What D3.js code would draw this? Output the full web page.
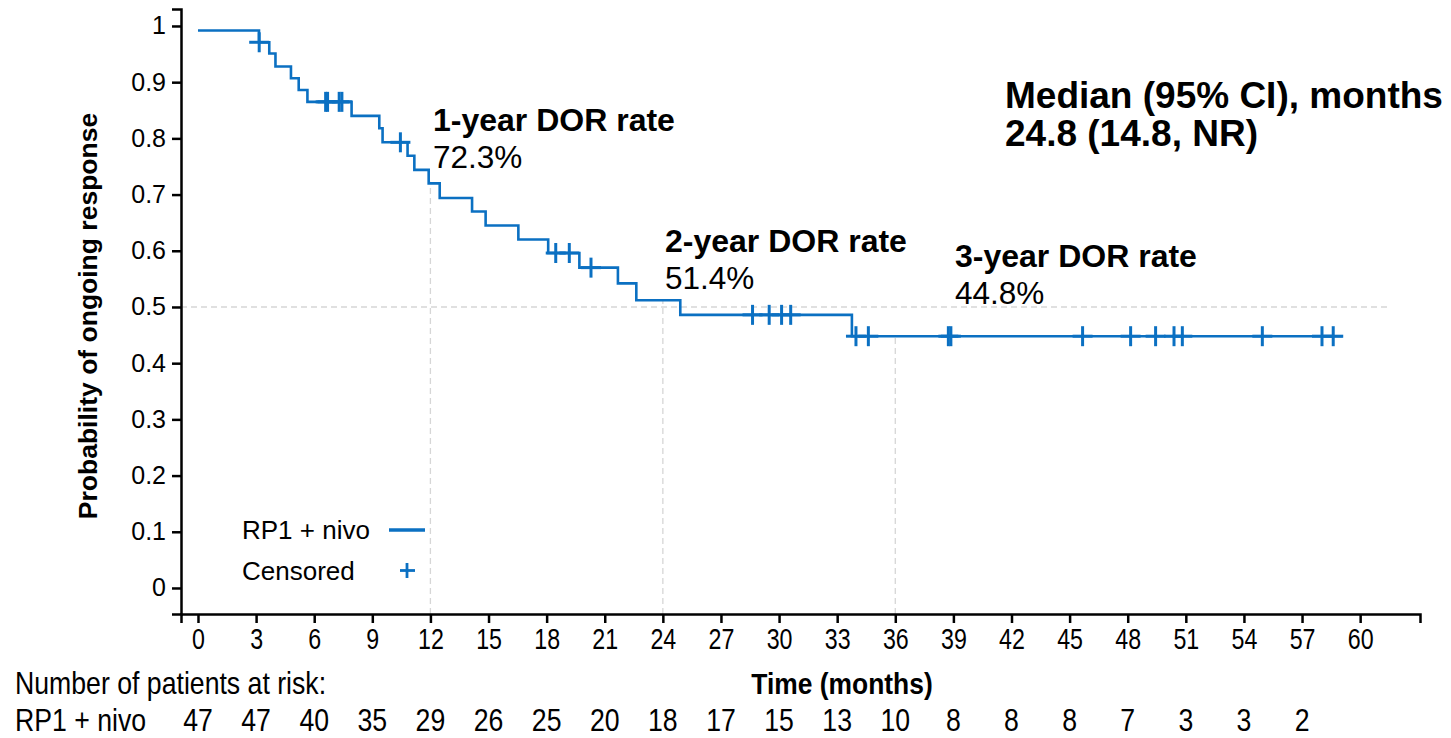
<!DOCTYPE html>
<html><head><meta charset="utf-8">
<script src="https://cdn.jsdelivr.net/npm/d3@7"></script>
<style>
html,body{margin:0;padding:0;background:#fff;}
svg{display:block;}
text{font-family:"Liberation Sans",Arial,sans-serif;}
</style>
</head><body>
<svg id="chart" width="1451" height="738"></svg>
<script>
// ---- data ----
const startValue = 0.992;
const eventTimes = [3.15, 3.68, 4.0, 4.8, 5.2, 5.65, 7.93, 9.36, 9.53, 10.82, 11.17, 11.91, 12.48, 14.15, 14.85, 16.54, 18.08, 19.69, 21.68, 22.63, 24.9, 33.76];
const survival   = [0.971, 0.951, 0.928, 0.907, 0.886, 0.865, 0.840, 0.818, 0.793, 0.769, 0.744, 0.720, 0.694, 0.670, 0.645, 0.620, 0.596, 0.570, 0.542, 0.512, 0.486, 0.448];
const lastFollowUp = 59.1;
const censorTimes = [3.16, 6.59, 6.69, 7.29, 7.43, 10.45, 18.47, 19.17, 20.29, 28.63, 29.49, 30.13, 30.6, 33.97, 34.61, 38.74, 38.87, 45.67, 48.15, 49.44, 50.39, 50.82, 54.95, 58.03, 58.61];
const xTicks = [0,3,6,9,12,15,18,21,24,27,30,33,36,39,42,45,48,51,54,57,60];
const yTicks = [0,0.1,0.2,0.3,0.4,0.5,0.6,0.7,0.8,0.9,1];
const atRiskTimes = [0,3,6,9,12,15,18,21,24,27,30,33,36,39,42,45,48,51,54,57];
const atRisk = [47,47,40,35,29,26,25,20,18,17,15,13,10,8,8,8,7,3,3,2];
const rateTimes = [12, 24, 36];
const rateValues = [0.723, 0.514, 0.448];
const rateTitles = ["1-year DOR rate", "2-year DOR rate", "3-year DOR rate"];
const rateLabels = ["72.3%", "51.4%", "44.8%"];
const medianTitle = "Median (95% CI), months";
const medianValue = "24.8 (14.8, NR)";
const seriesName = "RP1 + nivo";

// ---- layout ----
const blue = "#0b70c2";
const svg = d3.select("#chart");
const x = d3.scaleLinear().domain([-0.877, 63.09]).range([181, 1420]);
const y = d3.scaleLinear().domain([-0.0463, 1.0302]).range([614, 9]);

// reference lines
const g = svg.append("g");
const dash = {stroke:"#d6d6d6", "stroke-width":1.3, "stroke-dasharray":"6,4"};
function applyAttrs(sel, o){ for (const k in o) sel.attr(k, o[k]); return sel; }
applyAttrs(g.append("line").attr("x1", x.range()[0]).attr("x2", x(61.5)).attr("y1", y(0.5)).attr("y2", y(0.5)), dash);
rateTimes.forEach((t,i)=>{
  applyAttrs(g.append("line").attr("x1", x(t)).attr("x2", x(t)).attr("y1", y.range()[0]).attr("y2", y(rateValues[i])), dash);
});

// axes
const xAxis = d3.axisBottom(x).tickValues(xTicks).tickSizeOuter(0).tickSize(9).tickPadding(5).tickFormat(d3.format("d"));
const gx = svg.append("g").attr("transform", `translate(0,${y.range()[0]})`).call(xAxis);
gx.select(".domain").attr("stroke","#000").attr("stroke-width",2.5);
gx.selectAll(".tick line").attr("stroke","#000").attr("stroke-width",2.5);
gx.selectAll(".tick text").attr("font-family","'Liberation Sans',Arial,sans-serif").attr("font-size",29).attr("fill","#000")
  .attr("transform","scale(0.8,1)");

const yAxis = d3.axisLeft(y).tickValues(yTicks).tickSizeOuter(0).tickSize(9).tickPadding(6).tickFormat(d=> d===0?"0":d===1?"1":d3.format(".1f")(d));
const gy = svg.append("g").attr("transform", `translate(${x.range()[0]},0)`).call(yAxis);
gy.select(".domain").attr("stroke","#000").attr("stroke-width",2.5);
gy.selectAll(".tick line").attr("stroke","#000").attr("stroke-width",2.5);
gy.selectAll(".tick text").attr("font-family","'Liberation Sans',Arial,sans-serif").attr("font-size",25).attr("fill","#000");

// axis titles
svg.append("text").attr("font-weight","bold").attr("font-size",26.5)
  .attr("transform",`translate(97,316) rotate(-90)`).attr("text-anchor","middle").text("Probability of ongoing response");
svg.append("text").attr("font-weight","bold").attr("font-size",30)
  .attr("transform","translate(842,694) scale(0.88,1)").attr("text-anchor","middle").text("Time (months)");

// KM curve
const pts = [[0,startValue]].concat(eventTimes.map((t,i)=>[t,survival[i]]));
pts.push([lastFollowUp, survival[survival.length-1]]);
const line = d3.line().x(d=>x(d[0])).y(d=>y(d[1])).curve(d3.curveStepAfter);
svg.append("path").attr("d", line(pts)).attr("fill","none").attr("stroke",blue).attr("stroke-width",2.6);

function survAt(t){ let s = startValue; eventTimes.forEach((e,i)=>{ if (e<=t) s = survival[i]; }); return s; }
const cz = 10;
const cg = svg.append("g").attr("stroke",blue).attr("stroke-width",3);
censorTimes.forEach(t=>{
  const cx = x(t), cy = y(survAt(t));
  cg.append("line").attr("x1",cx).attr("x2",cx).attr("y1",cy-cz).attr("y2",cy+cz);
  cg.append("line").attr("x1",cx-cz).attr("x2",cx+cz).attr("y1",cy).attr("y2",cy);
});

// annotations
const titleX = [433, 665, 955];
const titleY = [131, 252, 267];
rateTimes.forEach((t,i)=>{
  svg.append("text").attr("font-weight","bold").attr("font-size",32)
    .attr("x",titleX[i]).attr("y",titleY[i]).text(rateTitles[i]);
  svg.append("text").attr("font-size",31.5)
    .attr("x",titleX[i]).attr("y",titleY[i]+37).text(rateLabels[i]);
});
svg.append("text").attr("font-weight","bold").attr("font-size",37)
  .attr("x",1005).attr("y",108).text(medianTitle);
svg.append("text").attr("font-weight","bold").attr("font-size",37)
  .attr("x",1005).attr("y",146).text(medianValue);

// legend
svg.append("text").attr("font-size",26).attr("x",242).attr("y",539).text(seriesName);
svg.append("line").attr("x1",389).attr("x2",425).attr("y1",530).attr("y2",530).attr("stroke",blue).attr("stroke-width",3.5);
svg.append("text").attr("font-size",26).attr("x",242).attr("y",580).text("Censored");
svg.append("line").attr("x1",407).attr("x2",407).attr("y1",563).attr("y2",578).attr("stroke",blue).attr("stroke-width",2.8);
svg.append("line").attr("x1",400).attr("x2",415).attr("y1",570.5).attr("y2",570.5).attr("stroke",blue).attr("stroke-width",2.8);

// at-risk table
const sx = 0.86;
svg.append("text").attr("font-size",31).attr("transform",`translate(15,694) scale(${sx},1)`).text("Number of patients at risk:");
svg.append("text").attr("font-size",31).attr("transform",`translate(15,731) scale(${sx},1)`).text(seriesName);
svg.append("g").selectAll("text").data(atRisk).join("text")
  .attr("font-size",31).attr("text-anchor","middle")
  .attr("transform",(d,i)=>`translate(${x(atRiskTimes[i])},731) scale(${sx},1)`).text(d=>d);
</script>
</body></html>
